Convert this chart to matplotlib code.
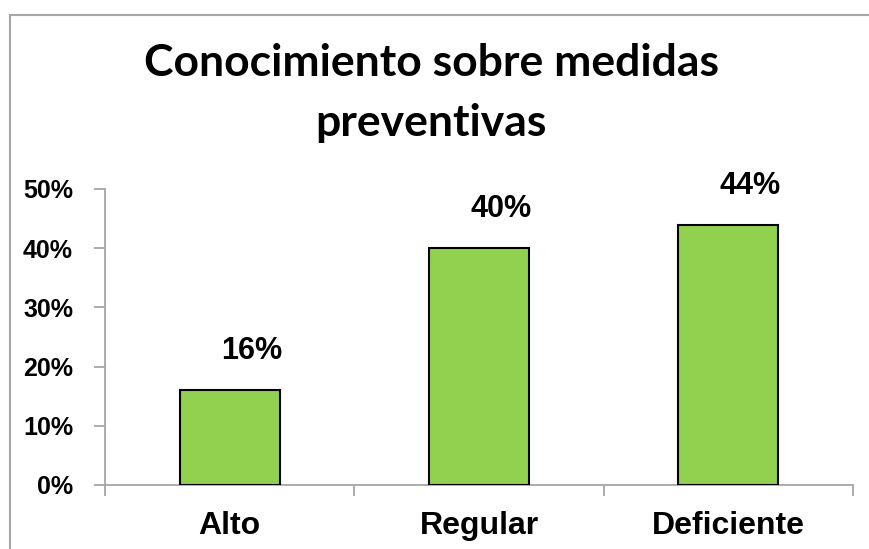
import numpy as np
import matplotlib.pyplot as plt
from matplotlib.lines import Line2D

# Datos
categorias = ["Alto", "Regular", "Deficiente"]
porcentajes = [16, 40, 44]
titulo = "Conocimiento sobre medidas\npreventivas"

verde = "#92D050"
gris = "#A6A6A6"

fig = plt.figure(figsize=(8.69, 5.49), dpi=100)
ax = fig.add_axes([105 / 869, 64 / 549, 748 / 869, 296 / 549])

x = np.arange(len(categorias))
ax.bar(x, porcentajes, width=0.4, color=verde, edgecolor="black", linewidth=1.5, zorder=3)

# Etiquetas de datos
for xi, v in zip(x, porcentajes):
    ax.annotate(f"{v}%", (xi, v), xytext=(16, 28), textcoords="offset points",
                ha="center", va="center", fontsize=22, fontweight="bold",
                family="Liberation Sans")

ax.set_xlim(-0.5, len(categorias) - 0.5)
ax.set_ylim(0, 50)
ax.set_yticks(range(0, 51, 10))
ax.set_yticklabels([f"{t}%" for t in range(0, 51, 10)], fontsize=18,
                   fontweight="bold", family="Liberation Sans")
ax.set_xticks(x)
ax.set_xticklabels(categorias, fontsize=23, fontweight="bold", family="Liberation Sans")
ax.set_xticks(np.arange(-0.5, len(categorias)), minor=True)
ax.tick_params(axis="x", which="major", length=0, pad=19)
ax.tick_params(axis="x", which="minor", length=8, width=1.3, color=gris, direction="out")
ax.tick_params(axis="y", length=8, width=1.3, color=gris, direction="out", pad=15)

for s in ["top", "right"]:
    ax.spines[s].set_visible(False)
for s in ["left", "bottom"]:
    ax.spines[s].set_color(gris)
    ax.spines[s].set_linewidth(1.3)

fig.text(431 / 869, 1 - 93 / 549, titulo, ha="center", va="center", fontsize=32,
         fontweight="bold", family="Lato", linespacing=1.6)

# Marco del gráfico
fig.add_artist(Line2D([10 / 869, 10 / 869], [0, 1 - 15 / 549], transform=fig.transFigure,
                      color=gris, linewidth=1.5))
fig.add_artist(Line2D([10 / 869, 1], [1 - 15 / 549, 1 - 15 / 549], transform=fig.transFigure,
                      color=gris, linewidth=1.5))

fig.savefig("out.png", dpi=100)
